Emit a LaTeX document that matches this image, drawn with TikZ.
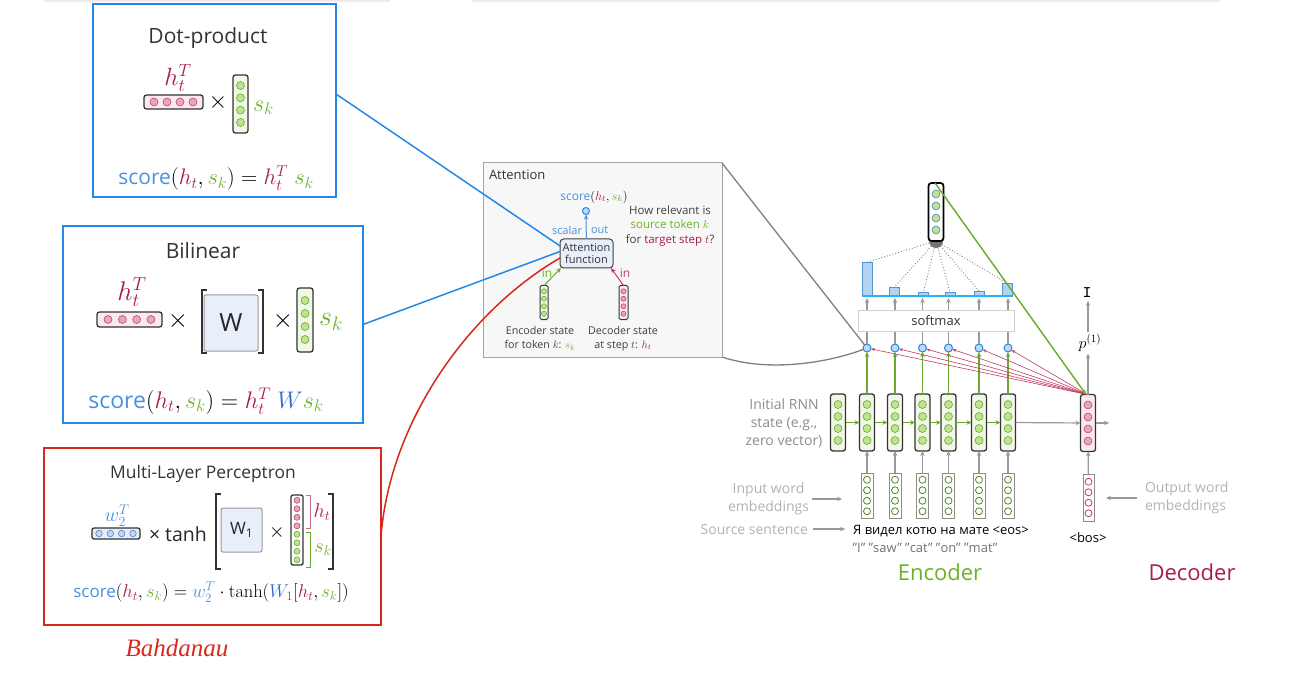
\RequirePackage{fix-cm}
\documentclass[tikz,border=0pt]{standalone}
\usepackage[no-math]{fontspec}
\setmainfont{Open Sans}
\newfontfamily\handfont{Liberation Serif}
\newfontfamily\typefont{Liberation Mono}
\usetikzlibrary{arrows.meta}

\definecolor{dpblue}{RGB}{35,136,232}
\definecolor{mlpred}{RGB}{214,40,28}
\definecolor{hred}{RGB}{168,28,70}
\definecolor{sgreen}{RGB}{108,178,38}
\definecolor{scoreblue}{RGB}{74,144,220}
\definecolor{wblue}{RGB}{45,110,205}
\definecolor{pinkbg}{RGB}{252,233,239}
\definecolor{pinkdotc}{RGB}{234,165,186}
\definecolor{pinkline}{RGB}{185,75,110}
\definecolor{greenbg}{RGB}{241,248,230}
\definecolor{greendotc}{RGB}{190,228,145}
\definecolor{greenline}{RGB}{105,170,45}
\definecolor{bluebg}{RGB}{228,237,250}
\definecolor{bluedotc}{RGB}{196,216,242}
\definecolor{bluedotl}{RGB}{80,130,200}
\definecolor{wfill}{RGB}{232,239,250}
\definecolor{barfill}{RGB}{178,212,240}
\definecolor{barline}{RGB}{80,150,215}
\definecolor{baseline}{RGB}{40,180,240}
\definecolor{attred}{RGB}{195,60,95}
\definecolor{labgray}{RGB}{150,150,150}
\definecolor{lightlab}{RGB}{178,178,178}

\newcommand\fs[2]{\fontsize{#1}{#2}\selectfont}
% "score(h_t, s_k)"; the argument is the size of the word "score"
\newcommand\scorehs[1]{{\fs{#1}{#1}\textcolor{scoreblue}{score}}$({\color{hred}h_t},{\color{sgreen}s_k})$}

% vertical vector: name, x, y, width, height, dot spacing, frame style, dot style
\newcommand\vvec[8]{%
  \node[#7, minimum width=#4, minimum height=#5] (#1) at (#2,#3) {};
  \foreach \vk [count=\vi] in {-1.5,-0.5,0.5,1.5}
    \node[#8] (#1-\vi) at (#2,{#3+\vk*#6}) {};
}
% horizontal vector: name, x, y, width, height, dot spacing, frame style, dot style
\newcommand\hvec[8]{%
  \node[#7, minimum width=#4, minimum height=#5] (#1) at (#2,#3) {};
  \foreach \vk [count=\vi] in {-1.5,-0.5,0.5,1.5}
    \node[#8] (#1-\vi) at ({#2+\vk*#6},#3) {};
}

\begin{document}
\begin{tikzpicture}[x=1pt,y=-1pt,
  every node/.style={inner sep=0pt, outer sep=0pt},
  panel/.style={draw, line width=1.6},
  pinkframe/.style={draw=black!80, line width=1.3, rounded corners=2.5, fill=pinkbg},
  greenframe/.style={draw=black!80, line width=1.3, rounded corners=2.5, fill=greenbg},
  blueframe/.style={draw=black!80, line width=1.3, rounded corners=2, fill=bluebg},
  ctxframe/.style={draw=black, line width=1.7, rounded corners=3, fill=white},
  embframe/.style={draw=black!45, line width=1, fill=white},
  pinkdot/.style={circle, minimum size=8, draw=pinkline, line width=0.6, fill=pinkdotc},
  greendot/.style={circle, minimum size=8, draw=greenline, line width=0.6, fill=greendotc},
  ctxdot/.style={circle, minimum size=8, draw=bluedotl, line width=0.6, fill=greendotc},
  bluedot/.style={circle, minimum size=7, draw=bluedotl, line width=0.6, fill=bluedotc},
  embdot/.style={circle, minimum size=7, draw=greenline!80!black, line width=0.8, fill=white},
  embpinkdot/.style={circle, minimum size=7, draw=attred, line width=0.8, fill=white},
  wbox/.style={draw=black!40, line width=1, rounded corners=2, fill=wfill},
  bracket/.style={draw=black!80, line width=1.1},
  scorecirc/.style={circle, minimum size=8, draw=dpblue, line width=1, fill=bluedotc},
  bar/.style={draw=barline, line width=0.8, fill=barfill, minimum width=10, anchor=south},
  tip/.style={-{Stealth[length=5pt,width=4.5pt]}},
  grayarrow/.style={tip, draw=black!40, line width=1.2},
  greenarrow/.style={tip, draw=greenline, line width=1.4},
  attnarrow/.style={-{Stealth[length=4pt,width=3pt]}, draw=attred, line width=0.6},
  zoomline/.style={draw=black!50, line width=1.3},
  dotline/.style={draw=black!50, line width=0.9, dotted},
]
\useasboundingbox (0,0) rectangle (1290,676);

% faint separators along the top edge
\draw[black!8, line width=2] (44,1) -- (390,1);
\draw[black!8, line width=2] (472,1) -- (1220,1);

% ---------------- Dot-product ----------------
\node[panel, draw=dpblue, minimum width=243, minimum height=193] (dpbox) at (214.5,100.5) {};
\node[font=\fs{21}{24}, text=black!80] (dptitle) at (208,38) {Dot-product};
\node[font=\fs{25}{28}] (dph) at (178,78) {$\color{hred}h_t^T$};
\hvec{dpu}{173.5}{102}{59}{14}{13}{pinkframe}{pinkdot}
\node[font=\fs{24}{26}] (dpx) at (218,103) {$\times$};
\vvec{dpv}{240.5}{104}{15}{58}{12.3}{greenframe}{greendot}
\node[font=\fs{24}{26}, anchor=west] (dps) at (253,108) {$\color{sgreen}s_k$};
\node[font=\fs{22.5}{26}] (dpf) at (216,178) {\scorehs{21}${}={\color{hred}h_t^T}\;{\color{sgreen}s_k}$};

% ---------------- Bilinear ----------------
\node[panel, draw=dpblue, minimum width=300, minimum height=197] (bilbox) at (213,324.5) {};
\node[font=\fs{21}{24}, text=black!80] (biltitle) at (203,251) {Bilinear};
\node[font=\fs{27}{30}] (bilh) at (132,292) {$\color{hred}h_t^T$};
\hvec{bilu}{129.5}{319.5}{65}{15}{14.3}{pinkframe}{pinkdot}
\node[font=\fs{26}{28}] (bilx1) at (178,321) {$\times$};
\draw[bracket] (207,290) -- (202,290) -- (202,353) -- (207,353);
\draw[bracket] (258,290) -- (263,290) -- (263,353) -- (258,353);
\node[wbox, minimum width=54, minimum height=56, font=\fs{25}{28}, text=black!85] (bilW) at (231,323) {W};
\node[font=\fs{26}{28}] (bilx2) at (283,321) {$\times$};
\vvec{bilv}{305}{320}{16}{64}{13}{greenframe}{greendot}
\node[font=\fs{28}{30}, anchor=west] (bils) at (319,322) {$\color{sgreen}s_k$};
\node[font=\fs{24}{27}] (bilf) at (206,401) {\scorehs{23}${}={\color{hred}h_t^T}\;{\color{wblue}W}{\color{sgreen}s_k}$};

% ---------------- Multi-Layer Perceptron ----------------
\node[panel, draw=mlpred, minimum width=337, minimum height=177] (mlpbox) at (212.5,536.5) {};
\node[font=\fs{17.4}{20}, text=black!80] (mlptitle) at (203,474) {Multi-Layer Perceptron};
\node[font=\fs{20}{22}] (mlpw) at (117,516) {$\color{scoreblue}w_2^T$};
\hvec{mlpu}{116}{533.5}{48}{11}{11.3}{blueframe}{bluedot,minimum size=6.5}
\node[font=\fs{19.5}{22}, anchor=west, text=black!85] (mlptanh) at (149,534) {× tanh};
\draw[bracket] (221,494) -- (216,494) -- (216,569) -- (221,569);
\draw[bracket] (328,494) -- (333,494) -- (333,569) -- (328,569);
\node[wbox, minimum width=41, minimum height=44, font=\fs{17}{19}, text=black!85] (mlpW) at (241.5,530) {W\raisebox{-3pt}{\fs{12}{13}1}};
\node[font=\fs{20}{22}] (mlpx) at (277,532) {$\times$};
\node[draw=black!80, line width=1.3, rounded corners=2, fill=white, minimum width=12, minimum height=70] (mlpv) at (297,530) {};
\foreach \y [count=\n] in {500.3,508.8,517.3,525.8}
  \node[pinkdot, minimum size=6] (mlpv-h\n) at (297,\y) {};
\foreach \y [count=\n] in {534.3,542.8,551.3,559.8}
  \node[greendot, minimum size=6] (mlpv-s\n) at (297,\y) {};
\draw[draw=pinkline!80, line width=0.9] (306,495) -- (310,495) -- (310,528) -- (306,528);
\draw[draw=greenline, line width=0.9] (306,532) -- (310,532) -- (310,567) -- (306,567);
\node[font=\fs{20}{22}] (mlph) at (322,512) {$\color{hred}h_t$};
\node[font=\fs{20}{22}] (mlps) at (323,550) {$\color{sgreen}s_k$};
\node[font=\fs{18.5}{21}] (mlpf) at (211,592) {\scorehs{17}${}={\color{scoreblue}w_2^T}\cdot\tanh({\color{wblue}W_1}[{\color{hred}h_t},{\color{sgreen}s_k}])$};
\node[font=\handfont\itshape\fs{25}{28}, text=mlpred] (bahd) at (177,648) {Bahdanau};

% ---------------- Attention close-up ----------------
\node[draw=black!35, line width=1, fill=black!3, minimum width=239, minimum height=194] (attbox) at (602.5,260) {};
\node[font=\fs{13}{15}, anchor=west, text=black!80] (atttitle) at (489,175) {Attention};
\node[font=\fs{12.5}{14}] (attscore) at (594,197) {\scorehs{12}};
\node[scorecirc, minimum size=7] (scal) at (586,211) {};
\node[draw=black!75, line width=1, rounded corners=3.5, fill=wfill, minimum width=53, minimum height=29,
      align=center, font=\fs{11}{12.5}, text=black!80] (afn) at (586.5,253.5) {Attention\\function};
\draw[tip, draw=scoreblue, line width=1] (afn) -- (scal);
\node[font=\fs{11}{13}, text=scoreblue, anchor=east] (scalarlbl) at (582,230) {scalar};
\node[font=\fs{11}{13}, text=scoreblue, anchor=west] (outlbl) at (591,230) {out};
\node[font=\fs{11.5}{14.5}, align=center, text=black!75] (question) at (670,226)
  {How relevant is\\\textcolor{sgreen}{source token $k$}\\for \textcolor{hred}{target step $t$}?};
\vvec{ess}{544}{302.5}{8}{34}{7.5}{greenframe,line width=1,rounded corners=1.5}{greendot,minimum size=5}
\vvec{dss}{623.5}{302.5}{9}{34}{7.5}{pinkframe,line width=1,rounded corners=1.5}{pinkdot,minimum size=5}
\draw[tip, draw=greenline, line width=1] (ess.north) -- ([xshift=1]afn.south west);
\draw[tip, draw=attred, line width=1] (dss.north) -- ([xshift=-2]afn.south east);
\node[font=\fs{12}{14}, text=sgreen] (inenc) at (547,273) {in};
\node[font=\fs{12}{14}, text=attred] (indec) at (625,273) {in};
\node[font=\fs{10.7}{14}, align=center, text=black!75] (enctxt) at (540,338.5) {Encoder state\\for token $k$: \textcolor{sgreen}{$s_k$}};
\node[font=\fs{10.7}{14}, align=center, text=black!75] (dectxt) at (623,338.5) {Decoder state\\at step $t$: \textcolor{hred}{$h_t$}};

% score functions feed the attention function
\draw[draw=dpblue, line width=1.5] ([yshift=6.5]dpbox.east) -- ([yshift=7.5]afn.west);
\draw[draw=dpblue, line width=1.5] (bilbox.east) -- ([yshift=2]afn.west);
\draw[draw=mlpred, line width=1.5] (mlpbox.east) .. controls (390,420) and (470,310) .. ([yshift=-4.5]afn.west);

% ---------------- Encoder ----------------
\vvec{e0}{838}{422.5}{15}{57}{12}{greenframe}{greendot}
\foreach \c [count=\i] in {867,895,922.5,948.5,979,1008} {
  \node[scorecirc] (sc\i) at (\c,348) {};
  \vvec{e\i}{\c}{422.5}{15}{57}{12}{greenframe}{greendot}
  \vvec{x\i}{\c}{495.5}{12}{45}{10.5}{embframe}{embdot}
}
\foreach \a/\b in {0/1,1/2,2/3,3/4,4/5,5/6}
  \draw[greenarrow] (e\a) -- (e\b);
\foreach \i in {1,...,6} {
  \draw[greenarrow] (e\i) -- (sc\i);
  \draw[grayarrow] (x\i) -- (e\i);
}

% zoom lines from the close-up to the first score
\draw[zoomline] (attbox.north east) -- (sc1);
\draw[zoomline] (attbox.south east) .. controls (770,373) and (830,362) .. (sc1);

% softmax and attention weights
\coordinate (wbase) at (0,298);
\foreach \i in {1,...,6}
  \draw[grayarrow] (sc\i) -- (sc\i |- wbase);
\node[draw=black!18, line width=1, fill=white, minimum width=156, minimum height=21, font=\fs{13}{15}, text=black!80] (softmax) at (936,320.5) {softmax};
\foreach \x/\h [count=\i] in {867.5/34,894.5/9,923.5/4,950/4,979/5,1007/13}
  \node[bar, minimum height=\h] (b\i) at (\x,296) {};
\draw[draw=baseline, line width=1.6] (b1.south west) -- (b6.south east);

% context vector
\node[circle, fill=black!55, minimum size=14] (pool) at (936,241) {};
\foreach \i in {1,...,6}
  \draw[dotline] (pool) -- (b\i.north);
\vvec{ctx}{936}{212}{15}{58}{12}{ctxframe}{ctxdot}

% ---------------- Decoder ----------------
\vvec{dec}{1088}{423}{15}{57}{12}{pinkframe}{pinkdot}
\vvec{demb}{1088.5}{497.5}{11}{47}{10.5}{embframe}{embpinkdot}
\foreach \i in {1,...,6}
  \draw[attnarrow] ([xshift=-1]dec.north) -- (sc\i);
\draw[tip, draw=greenline, line width=1.4] ([xshift=-1]ctx.north) -- ([xshift=-2]dec.north);
\draw[grayarrow] (e6) -- (dec);
\coordinate (decout) at (1109,423);
\draw[grayarrow] (dec) -- (decout);
\draw[grayarrow] (demb) -- (dec);
\node[font=\fs{16}{18}] (p1) at (1090,343) {$p^{(1)}$};
\node[font=\typefont\fs{15}{16}] (tokI) at (1087,293) {I};
\draw[grayarrow, shorten >=2] (dec) -- (dec |- p1.south);
\draw[grayarrow, shorten <=2, shorten >=3] (dec |- p1.north) -- (dec |- tokI.south);
\node[font=\fs{13}{15}] (bos) at (1088,538) {<bos>};

% ---------------- labels ----------------
\node[font=\fs{14}{18}, align=center, text=black!45] (initlbl) at (784,423) {Initial RNN\\state (e.g.,\\zero vector)};
\node[font=\fs{14}{18}, align=center, text=lightlab, anchor=east] (inlbl) at (809,499) {Input word\\embeddings};
\draw[grayarrow, shorten <=3, shorten >=19] (inlbl.east) -- (inlbl.east -| x1.west);
\node[font=\fs{14}{18}, text=lightlab, anchor=east] (srclbl) at (808,529) {Source sentence};
\node[font=\fs{13}{15}] (srcsent) at (941,531) {Я видел котю на мате <eos>};
\draw[grayarrow, shorten <=5, shorten >=8] (srclbl.east) -- (srclbl.east -| srcsent.west);
\node[font=\fs{13}{15}, text=black!55] (trans) at (925,548) {"I" "saw" "cat" "on" "mat"};
\node[font=\fs{14}{18}, align=left, text=lightlab, anchor=west] (outwlbl) at (1145,498) {Output word\\embeddings};
\draw[grayarrow, shorten <=8, shorten >=12] (outwlbl.west) -- (outwlbl.west -| demb.east);
\node[font=\fs{22}{26}, text=sgreen] (enclbl) at (940,572) {Encoder};
\node[font=\fs{22}{26}, text=hred] (declbl) at (1192,572) {Decoder};
\end{tikzpicture}
\end{document}
